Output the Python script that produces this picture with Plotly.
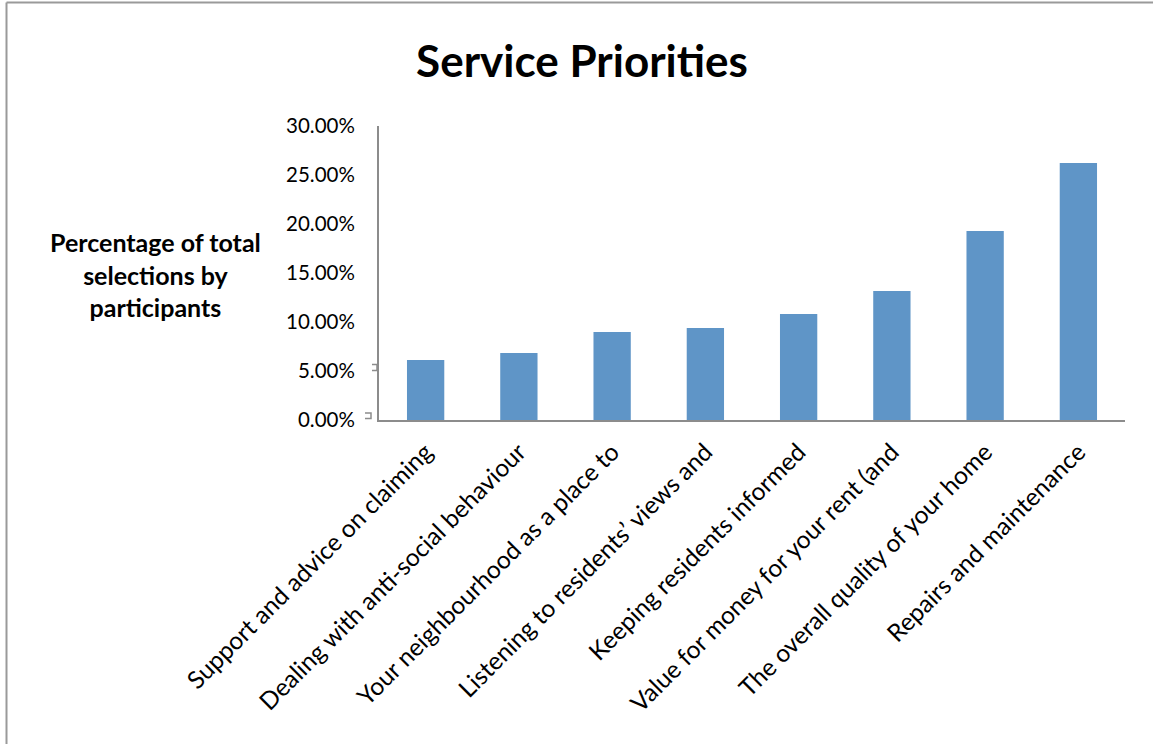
import plotly.graph_objects as go

# Service priority categories (labels as shown on the axis) and their share of selections
categories = [
    "Support and advice on claiming",
    "Dealing with anti-social behaviour",
    "Your neighbourhood as a place to",
    "Listening to residents\u2019 views and",
    "Keeping residents informed",
    "Value for money for your rent (and",
    "The overall quality of your home",
    "Repairs and maintenance",
]
shares = [0.0612, 0.0684, 0.0898, 0.0939, 0.1082, 0.1316, 0.1929, 0.2622]
y_ticks = [0, 0.05, 0.10, 0.15, 0.20, 0.25, 0.30]
y_tick_labels = ["0.00%", "5.00%", "10.00%", "15.00%", "20.00%", "25.00%", "30.00%"]

FONT = "Lato"
W, H = 1153, 744
L, R, T, B = 379, 28, 126, 324
pw, ph = W - L - R, H - T - B


def px_x(px):
    return (px - L) / pw


def px_y(py):
    return (H - B - py) / ph


def bracket(x0, x1, y0, y1):
    # small open bracket glyph beside the value axis
    return dict(
        type="path", xref="paper", yref="paper",
        path=(f"M {px_x(x0)} {px_y(y0)} L {px_x(x1)} {px_y(y0)} "
              f"L {px_x(x1)} {px_y(y1)} L {px_x(x0)} {px_y(y1)}"),
        line=dict(color="#8C8C8C", width=1.5),
    )


fig = go.Figure(
    go.Bar(
        x=categories,
        y=shares,
        marker=dict(color="#5F95C7", line=dict(width=0)),
        hoverinfo="x+y",
    )
)

fig.update_layout(
    width=W,
    height=H,
    margin=dict(l=L, r=R, t=T, b=B),
    paper_bgcolor="white",
    plot_bgcolor="white",
    bargap=0.6,
    showlegend=False,
    font=dict(family=FONT, color="#000000"),
    title=dict(
        text="<b>Service Priorities</b>",
        x=px_x(582),
        xref="paper",
        xanchor="center",
        y=1 - 62 / H,
        yref="container",
        yanchor="middle",
        font=dict(family=FONT, size=44, color="#000000"),
    ),
    xaxis=dict(
        type="category",
        tickangle=-45,
        tickfont=dict(family=FONT, size=24.5, color="#000000"),
        ticklabelstandoff=6,
        showline=True,
        linecolor="#8C8C8C",
        linewidth=2,
        ticks="",
        showgrid=False,
        zeroline=False,
        fixedrange=True,
    ),
    yaxis=dict(
        range=[0, 0.30],
        tickvals=y_ticks,
        ticktext=y_tick_labels,
        tickfont=dict(family=FONT, size=20.5, color="#000000"),
        ticklabelstandoff=18,
        showline=True,
        linecolor="#8C8C8C",
        linewidth=2,
        ticks="",
        ticklen=0,
        showgrid=False,
        zeroline=False,
        fixedrange=True,
    ),
    annotations=[
        dict(
            text="<b>Percentage of total<br>selections by<br>participants</b>",
            x=px_x(155),
            y=px_y(274),
            xref="paper",
            yref="paper",
            xanchor="center",
            yanchor="middle",
            showarrow=False,
            align="center",
            font=dict(family=FONT, size=25, color="#000000"),
        )
    ],
    shapes=[
        # chart frame: top and left edges
        dict(type="line", xref="paper", yref="paper",
             x0=px_x(6.5), y0=px_y(2.5), x1=px_x(W + 5), y1=px_y(2.5),
             line=dict(color="#9A9A9A", width=2)),
        dict(type="line", xref="paper", yref="paper",
             x0=px_x(6.5), y0=px_y(2.5), x1=px_x(6.5), y1=px_y(H + 5),
             line=dict(color="#9A9A9A", width=2)),
        bracket(372, 377, 364.5, 370.5),
        bracket(365, 371, 413, 418.5),
    ],
)

fig.write_html("out.html")
